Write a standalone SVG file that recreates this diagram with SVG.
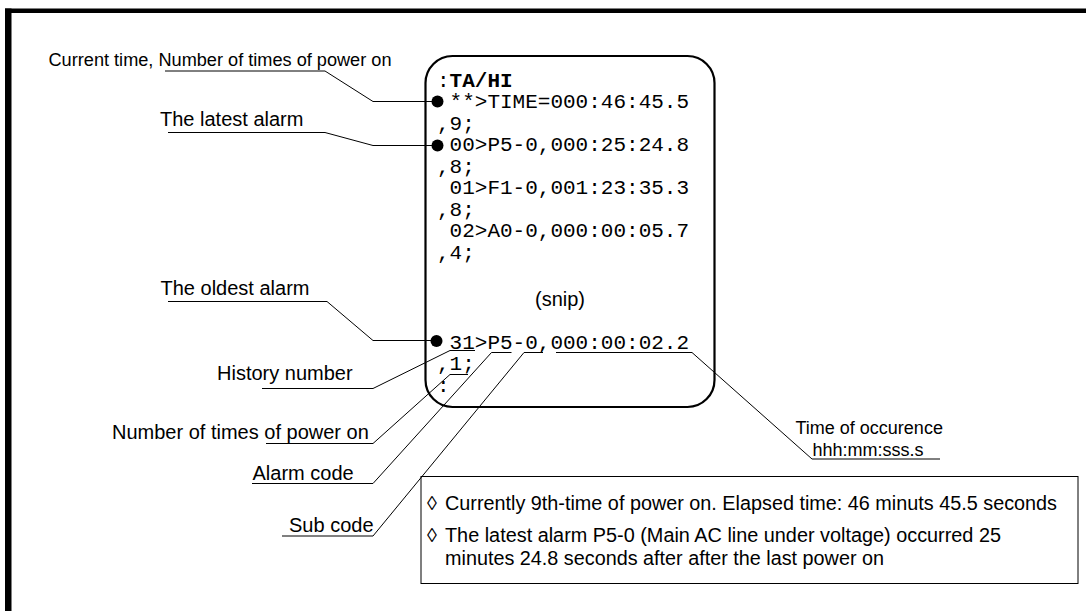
<svg xmlns="http://www.w3.org/2000/svg" width="1086" height="611" viewBox="0 0 1086 611">
<style>
.lbl{font-family:"Liberation Sans",Arial,sans-serif;font-size:20px;fill:#000}
.sm{font-size:18px}
.mono{font-family:"Liberation Mono","Courier New",monospace;font-size:21px;fill:#000}
.b{font-weight:bold}
.ld{fill:none;stroke:#000;stroke-width:1}
.dot{fill:#000}
</style>
<rect width="1086" height="611" fill="#fff"/>
<g id="frame">
<rect x="5" y="8.5" width="1081" height="4.5" fill="#000"/>
<rect x="5" y="8.5" width="6.5" height="603" fill="#000"/>
</g>
<g id="console">
<rect x="425.5" y="56" width="289" height="351" rx="27" ry="27" fill="none" stroke="#000" stroke-width="2.2"/>
<text class="mono" x="437" y="86.5">:<tspan class="b">TA/HI</tspan></text>
<text class="mono" x="437" y="108" xml:space="preserve"> **&gt;TIME=000:46:45.5</text>
<text class="mono" x="437" y="129.5">,9;</text>
<text class="mono" x="437" y="151" xml:space="preserve"> 00&gt;P5-0,000:25:24.8</text>
<text class="mono" x="437" y="172.5">,8;</text>
<text class="mono" x="437" y="194" xml:space="preserve"> 01&gt;F1-0,001:23:35.3</text>
<text class="mono" x="437" y="215.5">,8;</text>
<text class="mono" x="437" y="237" xml:space="preserve"> 02&gt;A0-0,000:00:05.7</text>
<text class="mono" x="437" y="258.5">,4;</text>
<text class="lbl" x="535" y="306">(snip)</text>
<text class="mono" x="437" y="348.5" xml:space="preserve"> 31&gt;P5-0,000:00:02.2</text>
<text class="mono" x="437" y="370">,1;</text>
<text class="mono" x="437" y="391.5">:</text>
<circle class="dot" cx="437.5" cy="101.5" r="6"/>
<circle class="dot" cx="437.5" cy="145.5" r="6"/>
<circle class="dot" cx="436.5" cy="341" r="6"/>
</g>
<g id="label-current">
<text class="lbl sm" x="48.5" y="65.5" textLength="343" lengthAdjust="spacingAndGlyphs">Current time, Number of times of power on</text>
</g>
<g id="label-latest">
<text class="lbl" x="160" y="125.5">The latest alarm</text>
</g>
<g id="label-oldest">
<text class="lbl" x="160.5" y="294.5">The oldest alarm</text>
</g>
<g id="label-history">
<text class="lbl" x="217" y="380">History number</text>
</g>
<g id="label-power">
<text class="lbl" x="112" y="438.5">Number of times of power on</text>
</g>
<g id="label-alarm">
<text class="lbl" x="252.5" y="479.5">Alarm code</text>
</g>
<g id="label-sub">
<text class="lbl" x="289" y="531.5">Sub code</text>
</g>
<g id="label-time">
<text class="lbl sm" x="795.5" y="433.5">Time of occurence</text>
<text class="lbl sm" x="812.5" y="456">hhh:mm:sss.s</text>
</g>
<g id="note">
<rect x="421" y="476.5" width="657" height="107" fill="none" stroke="#000" stroke-width="1"/>
<text class="lbl" x="427" y="509.5">◊</text>
<text class="lbl" x="445" y="509.5" textLength="612" lengthAdjust="spacingAndGlyphs">Currently 9th-time of power on. Elapsed time: 46 minuts 45.5 seconds</text>
<text class="lbl" x="427" y="542">◊</text>
<text class="lbl" x="445" y="542" textLength="556" lengthAdjust="spacingAndGlyphs">The latest alarm P5-0 (Main AC line under voltage) occurred 25</text>
<text class="lbl" x="445" y="565" textLength="439" lengthAdjust="spacingAndGlyphs">minutes 24.8 seconds after after the last power on</text>
</g>
<g id="connectors">
<polyline class="ld" points="165,71 325,71 373,101.5 432,101.5"/>
<polyline class="ld" points="168,132.5 325,132.5 373,145.5 432,145.5"/>
<polyline class="ld" points="168,301.5 327,301.5 373,340.5 431,340.5"/>
<polyline class="ld" points="262,388.5 373,388.5 450,350.5 475,350.5"/>
<polyline class="ld" points="266,443.5 373,443.5 450,374.5 468,374.5"/>
<polyline class="ld" points="252,483.5 373,483.5 491.5,352.5 511.5,352.5"/>
<polyline class="ld" points="282,536 373,536 524,352.5 543,352.5"/>
<polyline class="ld" points="940,459 812,459 692,352.5 556,352.5"/>
</g>
</svg>
